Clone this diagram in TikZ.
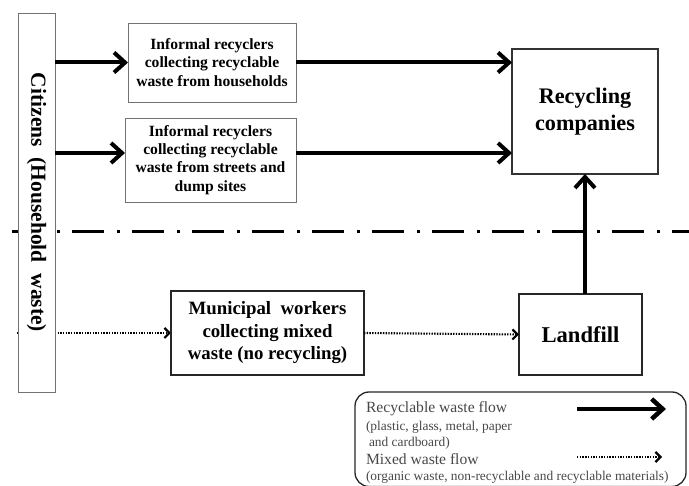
\documentclass[tikz,border=0pt]{standalone}
\usepackage{fontspec}
\setmainfont{Liberation Serif}
\usetikzlibrary{arrows.meta,backgrounds}

\begin{document}
\begin{tikzpicture}[x=1pt,y=-1pt,
  every node/.style={inner sep=0pt, outer sep=0pt},
  lightbox/.style={draw=black!55, line width=0.9pt, fill=white, align=center,
    font=\fontsize{15.6}{18.3}\selectfont\bfseries},
  heavybox/.style={draw=black!85, line width=1.7pt, fill=white, align=center},
  flow/.style={line width=4pt, -{Straight Barb[length=11pt,width=20pt]}},
  mixed/.style={line width=2.1pt, dash pattern=on 1.4pt off 1.3pt,
    -{Straight Barb[length=5pt,width=10pt,line width=2.2pt]}},
  separator/.style={line width=3pt, dash pattern=on 32pt off 12.5pt on 3pt off 12.5pt},
  legtext/.style={anchor=west, text=black!72, font=\fontsize{15.6}{18}\selectfont},
  legsmall/.style={anchor=west, text=black!72, font=\fontsize{13.4}{15}\selectfont}]
\useasboundingbox (0,0) rectangle (689,486);

% source column
\node[draw=black!55, line width=0.9pt, fill=white, rotate=-90,
  minimum width=379pt, minimum height=37pt,
  font=\fontsize{21.5}{25}\selectfont\bfseries] (cit) at (36.5,202.5)
  {Citizens\ \ (Household\ \ waste)};

% collectors
\node[lightbox, minimum width=168pt, minimum height=79pt] (inf1) at (212,62.5)
  {Informal recyclers\\collecting recyclable\\waste from households};
\node[lightbox, minimum width=171pt, minimum height=84pt] (inf2) at (210.5,160)
  {Informal recyclers\\collecting recyclable\\waste from streets and\\dump sites};
\node[heavybox, minimum width=193pt, minimum height=84pt,
  font=\fontsize{18.8}{22.5}\selectfont\bfseries] (mun) at (267.5,333)
  {Municipal\ \ workers\\collecting mixed\\waste (no recycling)};

% destinations
\node[heavybox, draw=black!80, line width=1.4pt, minimum width=146pt, minimum height=125pt,
  font=\fontsize{22.2}{27}\selectfont\bfseries] (rec) at (585,111.5)
  {Recycling\\companies};
\node[heavybox, minimum width=123pt, minimum height=81pt,
  font=\fontsize{22.6}{26}\selectfont\bfseries] (land) at (580.5,334.5) {Landfill};

% the second collector's flow runs a little above its centre line
\coordinate (inf2in) at ([yshift=7pt]inf2.west);
\coordinate (inf2out) at ([yshift=7pt]inf2.east);

% separator between formal and informal collection, and the mixed flow start
\coordinate (sepL) at (12,232);
\coordinate (sepR) at (689,232);
\coordinate (mixstart) at (17,333);
\begin{scope}[on background layer]
  \draw[separator] (sepL) -- (sepR);
  \draw[mixed] (mixstart) -- (mun.west);
\end{scope}

% recyclable flows
\draw[flow] (cit.north |- inf1.west) -- (inf1.west);
\draw[flow] (cit.north |- inf2in) -- (inf2in);
\draw[flow] (inf1.east) -- (inf1.east -| rec.west);
\draw[flow] (inf2out) -- (inf2out -| rec.west);
\draw[flow] (rec.south |- land.north) -- (rec.south);

% mixed flow
\draw[mixed] (mun.east) -- (land.west);

% legend
\node[draw=black!85, line width=1.3pt, rounded corners=14pt,
  minimum width=331pt, minimum height=94.5pt] (leg) at (520.5,439.25) {};
\node[legtext]  (l1) at (366,409) {Recyclable waste flow};
\node[legsmall] (l2) at (366,427) {(plastic, glass, metal, paper};
\node[legsmall] (l3) at (369,443) {and cardboard)};
\node[legtext]  (l4) at (366,459) {Mixed waste flow};
\node[legsmall] (l5) at (366,477) {(organic waste,\ non-recyclable\ and\ recyclable\ materials)};
\coordinate (ka) at (577,409);
\coordinate (kb) at (666,409);
\coordinate (kc) at (577,457);
\coordinate (kd) at (662,457);
\draw[flow, line width=4.5pt] (ka) -- (kb);
\draw[mixed] (kc) -- (kd);
\end{tikzpicture}
\end{document}
